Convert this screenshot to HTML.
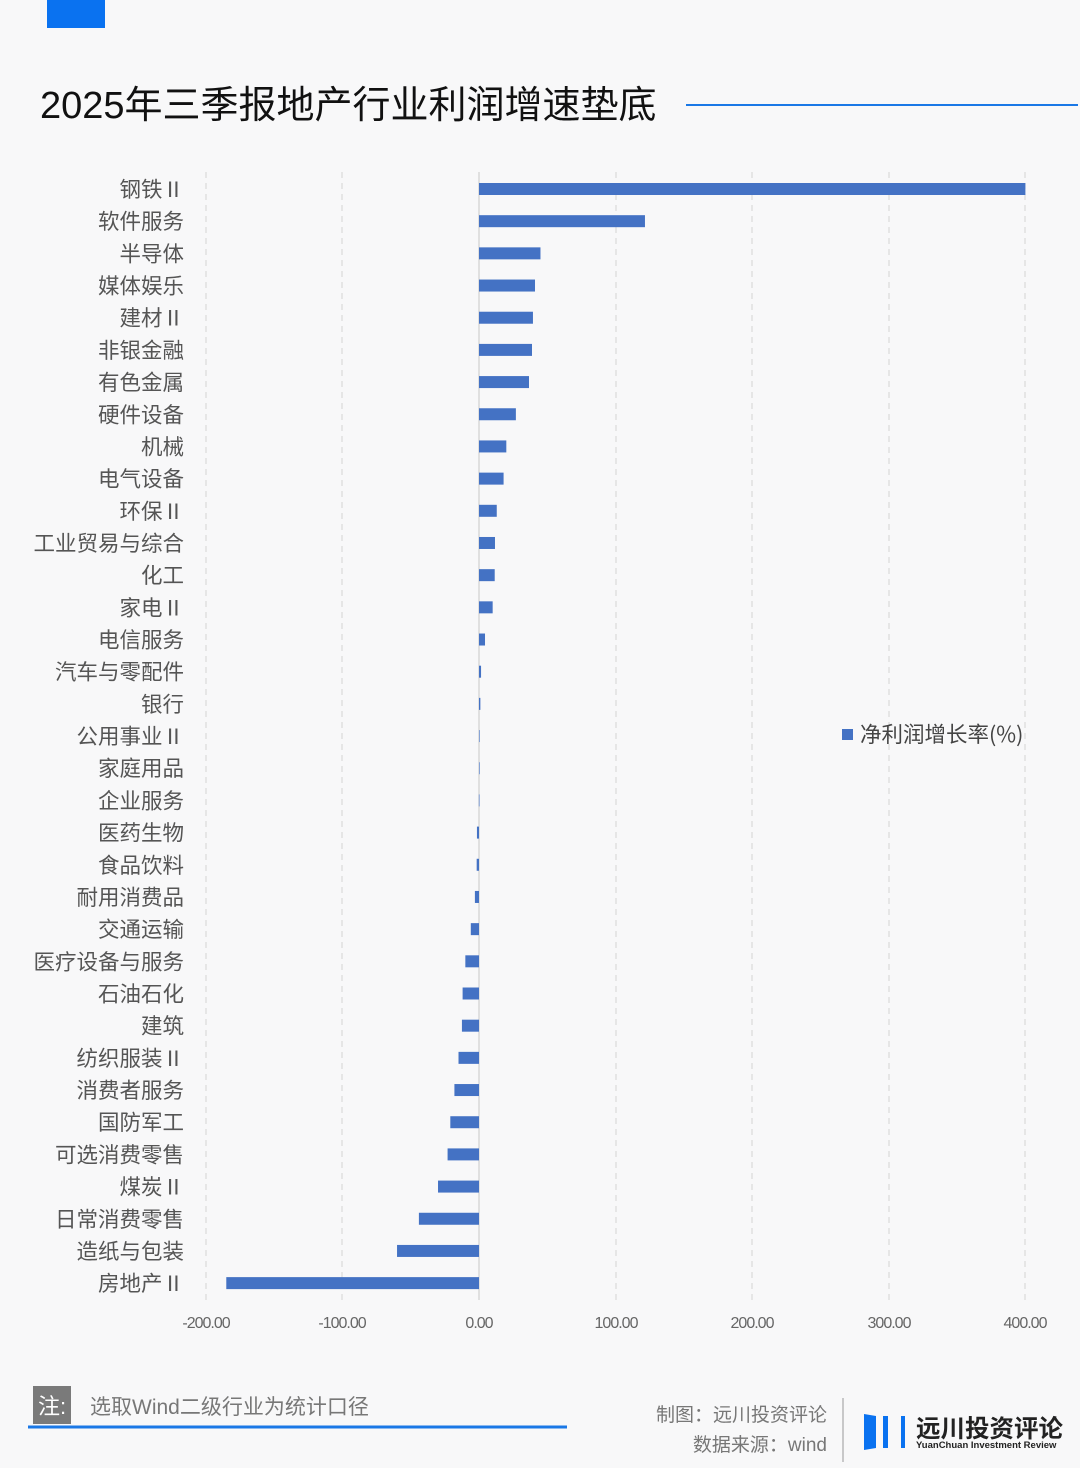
<!DOCTYPE html>
<html><head><meta charset="utf-8"><style>
html,body{margin:0;padding:0;background:#f8f8f9;}
svg{display:block;font-family:"Liberation Sans","Noto Sans CJK SC",sans-serif;}
.cj{font-family:"Noto Sans CJK SC",sans-serif;}
</style></head><body>
<svg width="1080" height="1468" viewBox="0 0 1080 1468" xmlns="http://www.w3.org/2000/svg">
<rect width="1080" height="1468" fill="#f8f8f9"/>
<rect x="47" y="0" width="58" height="28" fill="#0a72f0"/>
<text x="40" y="118" font-size="38" fill="#111">2025年三季报地产行业利润增速垫底</text>
<line x1="686" y1="105" x2="1078" y2="105" stroke="#1a78e6" stroke-width="2"/>
<g stroke="#d4d4d4" stroke-width="1" stroke-dasharray="6,5">
<line x1="206" y1="172" x2="206" y2="1300"/>
<line x1="342" y1="172" x2="342" y2="1300"/>
<line x1="616" y1="172" x2="616" y2="1300"/>
<line x1="752" y1="172" x2="752" y2="1300"/>
<line x1="889" y1="172" x2="889" y2="1300"/>
<line x1="1025" y1="172" x2="1025" y2="1300"/>
</g>
<line x1="479" y1="172" x2="479" y2="1300" stroke="#d0d0d0" stroke-width="1.2"/>
<g font-size="16" fill="#666" text-anchor="middle" letter-spacing="-1">
<text x="206" y="1328">-200.00</text><text x="342" y="1328">-100.00</text><text x="479" y="1328">0.00</text>
<text x="616" y="1328">100.00</text><text x="752" y="1328">200.00</text><text x="889" y="1328">300.00</text><text x="1025" y="1328">400.00</text>
</g>
<g id="bars" fill="#4472c4"></g>
<g id="labels" class="cj" font-size="21.5" fill="#555" text-anchor="end"></g>
<rect x="842" y="729" width="11" height="11" fill="#4472c4"/>
<text x="860" y="742" class="cj" font-size="21.5" fill="#444">净利润增长率(%)</text>
<rect x="33" y="1386" width="38" height="38" fill="#7a7a7a"/>
<text x="38" y="1414" font-size="22" fill="#fff">注:</text>
<text x="90" y="1414" font-size="21" fill="#777">选取Wind二级行业为统计口径</text>
<line x1="28" y1="1427" x2="567" y2="1427" stroke="#1a78e6" stroke-width="3"/>
<text x="827" y="1421" font-size="19" fill="#777" text-anchor="end">制图：远川投资评论</text>
<text x="827" y="1451" font-size="19" fill="#777" text-anchor="end">数据来源：wind</text>
<line x1="843" y1="1398" x2="843" y2="1462" stroke="#999" stroke-width="1"/>
<polygon points="864,1414 876,1416 876,1448 864,1450" fill="#0a72f0"/>
<rect x="883" y="1416" width="5" height="32" fill="#0a72f0"/>
<rect x="901" y="1416" width="4" height="32" fill="#0a72f0"/>
<text x="916" y="1437" font-size="24.5" font-weight="bold" fill="#222">远川投资评论</text>
<text x="916" y="1448" font-size="9.5" font-weight="bold" fill="#222">YuanChuan Investment Review</text>
</svg>
<script>
var d=[["钢铁Ⅱ",400],["软件服务",121.5],["半导体",45],["媒体娱乐",41],["建材Ⅱ",39.5],["非银金融",38.8],["有色金属",36.6],["硬件设备",27],["机械",20],["电气设备",18],["环保Ⅱ",13],["工业贸易与综合",11.7],["化工",11.5],["家电Ⅱ",10],["电信服务",4.4],["汽车与零配件",1.5],["银行",1],["公用事业Ⅱ",0.3],["家庭用品",0.1],["企业服务",-0.1],["医药生物",-1.5],["食品饮料",-1.7],["耐用消费品",-3],["交通运输",-6],["医疗设备与服务",-10],["石油石化",-12],["建筑",-12.5],["纺织服装Ⅱ",-15],["消费者服务",-18],["国防军工",-21],["可选消费零售",-23],["煤炭Ⅱ",-30],["日常消费零售",-44],["造纸与包装",-60],["房地产Ⅱ",-185]];
var ns="http://www.w3.org/2000/svg",b=document.getElementById("bars"),l=document.getElementById("labels");
d.forEach(function(r,i){var y=189+i*32.18;var w=r[1]*1.366;
var e=document.createElementNS(ns,"rect");e.setAttribute("x",w>=0?479:479+w);e.setAttribute("y",y-6);e.setAttribute("width",Math.max(Math.abs(w),0.6));e.setAttribute("height",12);b.appendChild(e);
var t=document.createElementNS(ns,"text");t.setAttribute("x",184);t.setAttribute("y",y+8);t.textContent=r[0];l.appendChild(t);});
</script>
</body></html>
